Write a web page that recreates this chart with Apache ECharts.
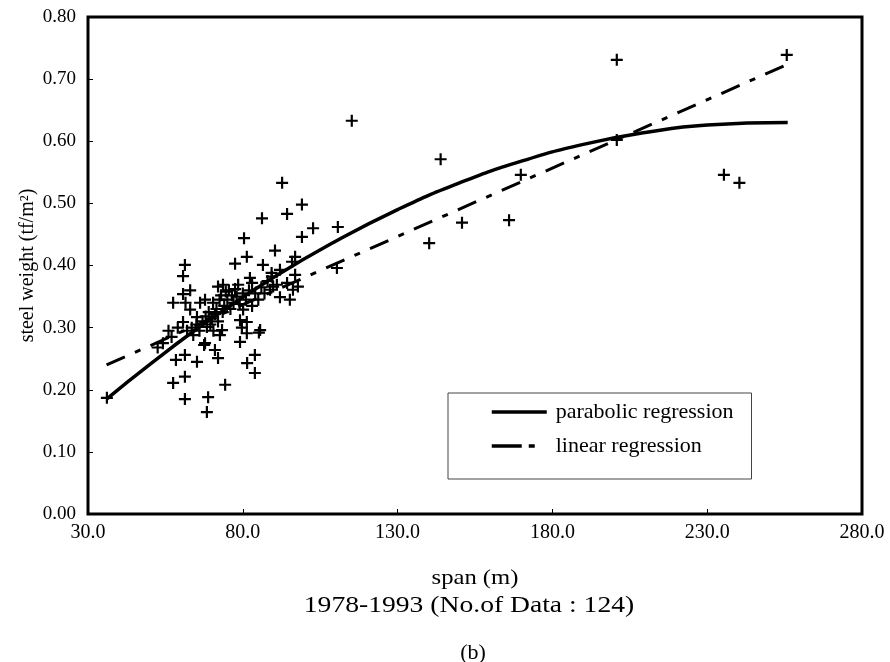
<!DOCTYPE html>
<html><head><meta charset="utf-8">
<script src="https://cdn.jsdelivr.net/npm/echarts@6/dist/echarts.min.js"></script>
<style>html,body{margin:0;padding:0;background:#fff}#c{width:890px;height:662px}</style>
</head><body><div id="c"></div>
<script>
// scatter data: span (m) and steel weight (tf/m2)
const spanM = [
 36.1,52.5,54.2,57.5,60.7,60.7,61.3,63.0,66.2,65.2,60.7,58.4,61.3,65.2,61.3,57.5,61.3,68.8,68.4,67.5,
 81.3,77.5,86.5,89.3,72.0,73.6,78.5,82.3,83.0,88.8,91.0,67.8,70.4,80.1,79.1,81.3,73.3,79.7,85.6,68.4,
 72.6,67.8,71.0,72.0,79.1,81.3,85.2,83.9,81.4,83.9,74.3,94.3,99.1,102.7,99.1,110.7,90.4,96.9,95.9,110.4,
 92.0,89.4,96.9,89.8,94.3,92.0,96.2,97.8,95.2,92.7,86.2,80.4,115.2,143.9,150.8,166.0,169.8,200.8,200.8,235.4,
 240.4,255.7,140.2,
 62.0,63.5,64.0,65.0,66.0,67.0,68.0,69.0,69.5,70.0,70.5,71.0,71.5,72.0,72.5,73.0,73.5,74.0,74.5,75.0,
 75.5,76.0,76.5,77.0,77.5,78.0,79.0,80.0,81.0,82.0,83.0,84.0,85.0,86.0,87.0,88.0,61.5,63.0,59.0,57.0,56.0
];
const steelWeight = [
 0.187,0.268,0.275,0.340,0.354,0.383,0.401,0.329,0.340,0.317,0.309,0.248,0.256,0.245,0.221,0.211,0.185,0.188,0.164,0.272,
 0.414,0.403,0.401,0.388,0.366,0.369,0.369,0.380,0.372,0.361,0.369,0.345,0.340,0.329,0.312,0.309,0.296,0.300,0.296,0.301,
 0.288,0.275,0.264,0.251,0.277,0.291,0.292,0.256,0.243,0.227,0.208,0.483,0.498,0.460,0.446,0.462,0.424,0.414,0.406,0.396,
 0.393,0.382,0.385,0.366,0.372,0.349,0.361,0.366,0.345,0.533,0.476,0.444,0.633,0.571,0.469,0.473,0.546,0.731,0.602,0.546,
 0.533,0.739,0.436,
 0.295,0.300,0.288,0.305,0.295,0.310,0.318,0.325,0.305,0.315,0.295,0.322,0.330,0.310,0.345,0.352,0.325,0.335,0.358,0.345,
 0.360,0.330,0.352,0.340,0.362,0.350,0.338,0.355,0.345,0.360,0.335,0.355,0.345,0.365,0.355,0.375,0.340,0.360,0.300,0.285,0.295
];
// regression curves
const parabolicX = [36, 50, 70, 90, 110, 130, 150, 170, 190, 210, 230, 256];
const parabolicY = [0.185, 0.241, 0.315, 0.381, 0.439, 0.490, 0.533, 0.568, 0.595, 0.614, 0.626, 0.630];
const linearX = [36, 256];
const linearY = [0.240, 0.724];
const seriesNames = ['parabolic regression', 'linear regression'];
const xLabel = 'span (m)';
const yLabel = 'steel weight (tf/m\u00B2)';
const subLabel = '1978-1993 (No.of Data : 124)';
const figLabel = '(b)';

const zip = (a, b) => a.map((v, i) => [v, b[i]]);
const FONT = '"Liberation Serif", "Times New Roman", serif';
const plus = 'path://M4.5,0H6.5V4.5H11V6.5H6.5V11H4.5V6.5H0V4.5H4.5Z';

const chart = echarts.init(document.getElementById('c'), null, {renderer: 'canvas'});
chart.setOption({
  backgroundColor: '#fff',
  animation: false,
  color: ['#000', '#000', '#000'],
  textStyle: {fontFamily: FONT, color: '#000'},
  grid: {left: 88, right: 28, top: 17, bottom: 148, outerBoundsMode: 'none', containLabel: false,
         show: true, borderColor: '#000', borderWidth: 3, backgroundColor: 'transparent'},
  xAxis: {
    type: 'value', min: 30, max: 280, interval: 50,
    axisLine: {show: false},
    axisTick: {show: true, inside: true, length: 5, lineStyle: {color: '#000', width: 1}},
    splitLine: {show: false},
    axisLabel: {margin: 9, fontSize: 20, color: '#000', fontFamily: FONT, formatter: v => v.toFixed(1)}
  },
  yAxis: {
    type: 'value', min: 0, max: 0.8, interval: 0.1,
    name: yLabel, nameLocation: 'middle', nameGap: 50, nameMoveOverlap: false,
    nameTextStyle: {fontSize: 20, color: '#000', fontFamily: FONT},
    axisLine: {show: false},
    axisTick: {show: true, inside: true, length: 5, lineStyle: {color: '#000', width: 1}},
    splitLine: {show: false},
    axisLabel: {margin: 12, fontSize: 19, color: '#000', fontFamily: FONT, formatter: v => v.toFixed(2)}
  },
  legend: {
    data: [
      {name: seriesNames[0], lineStyle: {width: 3.5, type: 'solid'}},
      {name: seriesNames[1], lineStyle: {width: 3.5, type: [30, 7, 6, 20]}}
    ],
    orient: 'vertical', left: 448, top: 393,
    backgroundColor: '#fff', borderColor: '#444', borderWidth: 1,
    padding: [8, 18, 22, 42], itemGap: 12, itemWidth: 55, itemHeight: 18,
    itemStyle: {opacity: 0},
    textStyle: {fontSize: 22, color: '#000', fontFamily: FONT, padding: [0, 0, 0, 4]}
  },
  graphic: [
    {type: 'text', x: 475, y: 578, scaleX: 1.12, style: {text: xLabel, font: '22px ' + FONT, fill: '#000', textAlign: 'center', textVerticalAlign: 'middle'}},
    {type: 'text', x: 469, y: 606, scaleX: 1.15, style: {text: subLabel, font: '24px ' + FONT, fill: '#000', textAlign: 'center', textVerticalAlign: 'middle'}},
    {type: 'text', x: 473, y: 653, style: {text: figLabel, font: '22px ' + FONT, fill: '#000', textAlign: 'center', textVerticalAlign: 'middle'}}
  ],
  series: [
    {
      type: 'scatter', name: 'data', data: zip(spanM, steelWeight),
      symbol: plus, symbolSize: 12, itemStyle: {color: '#000', opacity: 1}, z: 2
    },
    {
      type: 'line', name: seriesNames[0], data: zip(parabolicX, parabolicY), smooth: true,
      symbol: 'none', itemStyle: {color: '#000'}, lineStyle: {color: '#000', width: 3.5, type: 'solid'}, z: 3
    },
    {
      type: 'line', name: seriesNames[1], data: zip(linearX, linearY),
      symbol: 'none', itemStyle: {color: '#000'}, lineStyle: {color: '#000', width: 3, type: [20, 11, 6, 11]}, z: 3
    }
  ]
});
</script></body></html>
